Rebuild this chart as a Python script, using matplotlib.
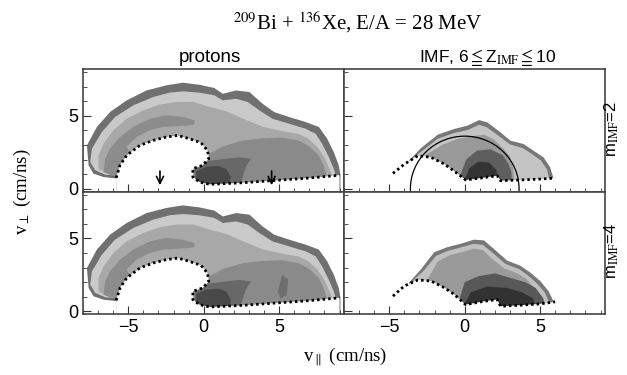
import matplotlib.pyplot as plt
from matplotlib.patches import Circle
from matplotlib.ticker import MultipleLocator

plt.rcParams['mathtext.fontset'] = 'stix'
plt.rcParams['font.family'] = ['Liberation Sans', 'DejaVu Sans']

# ---- protons: contour levels (outer edge first) and the dotted acceptance line
p_outer_x = [-5.8, -6.64, -7.3, -7.63, -7.74, -7.08, -6.21, -5.11, -3.79, -2.48, -1.38, -0.29, 0.7,
             1.27, 2.15, 3.03, 3.9, 4.67, 5.66, 6.75, 7.63, 8.18, 8.62, 8.95, 9.06]
p_outer_y = [0.7, 0.8, 1.03, 1.6, 2.97, 4.23, 5.25, 6.05, 6.73, 7.08, 7.26, 7.12, 6.9,
             6.5, 6.73, 6.62, 5.82, 5.25, 4.91, 4.57, 4.23, 3.43, 2.51, 1.6, 0.96]
p_light_x = [-5.75, -6.53, -7.19, -7.52, -7.41, -6.75, -5.88, -4.67, -3.35, -2.26, -1.38, -0.29, 0.7,
             1.27, 2.15, 2.92, 3.68, 4.56, 5.66, 6.75, 7.41, 7.85, 8.29, 8.62, 8.73]
p_light_y = [0.9, 0.96, 1.26, 1.83, 2.74, 3.88, 4.91, 5.71, 6.28, 6.58, 6.67, 6.58, 6.4,
             6.05, 6.16, 5.94, 5.37, 4.79, 4.45, 4.11, 3.77, 3.08, 2.17, 1.37, 0.96]
p_mid_x = [-5.75, -6.5, -6.97, -6.97, -6.64, -5.99, -5.11, -4.01, -2.92, -1.82, -0.72, 0.39,
           1.5, 2.6, 3.9, 5.2, 6.3, 6.9, 7.55, 8.05, 8.4, 8.5]
p_mid_y = [1.0, 1.1, 1.37, 2.28, 3.08, 3.99, 4.79, 5.37, 5.76, 5.94, 5.95, 5.6,
           5.3, 4.8, 4.25, 3.95, 3.75, 3.45, 2.85, 2.05, 1.2, 0.95]
p_tongue_x = [-5.75, -6.2, -6.64, -6.53, -6.21, -5.55, -4.67, -3.57, -2.48, -1.38, -0.61, -0.61,
              -1.6, -2.7, -3.57, -4.45, -5.11, -4.6, -5.5]
p_tongue_y = [0.9, 0.95, 1.14, 2.05, 2.74, 3.54, 4.23, 4.79, 5.03, 4.91, 4.68, 4.38,
              4.29, 4.23, 4.0, 3.54, 2.86, 2.0, 0.3]
p_lobe_x = [-0.6, -0.6, 0.3, 0.39, 1.27, 2.6, 3.9, 5.2, 6.3, 7.0, 7.6, 7.95, 8.15]
p_lobe_y = [0.8, 1.35, 2.1, 2.4, 2.9, 3.3, 3.45, 3.5, 3.3, 2.9, 2.3, 1.6, 0.9]
p_dark_x = [-0.6, 0.3, 1.49, 2.37, 3.14, 2.81, 2.6, 2.4]
p_dark_y = [1.3, 1.9, 2.05, 2.15, 2.05, 1.55, 0.87, 0.3]
p_core_x = [-0.5, 0.2, 1.0, 1.5, 1.8, 1.7]
p_core_y = [1.2, 1.5, 1.55, 1.35, 0.8, 0.3]
p_spot_x = [4.9, 5.2, 5.6, 5.5, 5.1]
p_spot_y = [1.3, 2.5, 2.2, 1.1, 0.9]
p_cut_x = [-5.8, -5.55, -5.11, -4.23, -3.35, -2.48, -1.71, -0.94, -0.18, 0.26, 0.33, -0.07, -0.72,
           -0.72, -0.29, 0.39, 2.6, 4.78, 6.97, 8.84, 9.0]
p_cut_y = [0.75, 1.6, 2.28, 2.97, 3.31, 3.54, 3.65, 3.42, 3.15, 2.6, 2.05, 1.6, 1.37,
           0.8, 0.46, 0.3, 0.41, 0.57, 0.73, 0.91, 0.95]
arrow_x = [-2.9, 4.5]

# ---- IMF, m_IMF = 2
m2_outer_x = [-3.8, -2.89, -1.79, -0.7, 0.18, 0.95, 1.5, 2.37, 3.03, 3.9, 4.56, 5.22, 5.66, 5.88]
m2_outer_y = [1.8, 2.79, 3.7, 4.09, 4.32, 4.7, 4.54, 3.86, 3.29, 3.06, 2.6, 2.15, 1.46, 0.73]
m2_light_x = [-3.5, -2.8, -1.8, -0.7, 0.2, 0.95, 1.45, 2.3, 3.0, 3.85, 4.45, 5.05, 5.45, 5.6]
m2_light_y = [2.05, 2.6, 3.42, 3.82, 4.02, 4.38, 4.22, 3.58, 3.03, 2.78, 2.38, 1.93, 1.33, 0.7]
m2_mid_x = [-2.6, -1.5, -0.5, 0.5, 1.3, 1.9, 2.6, 3.0, 3.2, 3.3]
m2_mid_y = [2.3, 3.0, 3.4, 3.6, 3.7, 3.4, 2.7, 2.2, 1.4, 0.6]
m2_dark_x = [-0.3, 0.1, 0.8, 1.7, 2.5, 2.9, 3.1, 3.1]
m2_dark_y = [0.9, 2.0, 2.6, 2.7, 2.3, 1.7, 1.1, 0.6]
m2_core_x = [0.0, 0.3, 0.9, 1.6, 2.1, 2.2]
m2_core_y = [0.6, 1.4, 1.85, 1.8, 1.3, 0.6]
m2_cut_x = [-4.76, -4.0, -3.11, -2.24, -1.36, -0.59, 0.06, 1.05, 2.15, 2.37, 3.68, 4.99, 5.99]
m2_cut_y = [1.05, 1.68, 2.26, 2.15, 1.69, 1.12, 0.6, 0.73, 0.89, 0.55, 0.6, 0.66, 0.73]
circle_r = 3.6

# ---- IMF, m_IMF = 4
m4_outer_x = [-3.7, -2.89, -2.02, -1.14, -0.26, 0.61, 1.27, 1.93, 2.81, 3.68, 4.34, 5.0, 5.55, 5.88]
m4_outer_y = [1.95, 2.89, 4.05, 4.4, 4.63, 4.91, 4.86, 4.28, 3.47, 3.13, 2.66, 2.08, 1.39, 0.69]
m4_light_x = [-3.4, -2.75, -1.9, -1.1, -0.25, 0.6, 1.2, 1.8, 2.7, 3.6, 4.2, 4.75, 5.3, 5.6]
m4_light_y = [2.15, 2.75, 3.8, 4.15, 4.38, 4.62, 4.55, 4.05, 3.25, 2.9, 2.45, 1.95, 1.3, 0.6]
m4_mid_x = [-2.4, -1.8, -1.0, -0.2, 0.6, 1.2, 1.7, 2.6, 3.5, 4.1, 4.6, 5.0]
m4_mid_y = [2.3, 3.4, 3.85, 4.05, 4.3, 4.2, 3.7, 2.95, 2.6, 2.2, 1.6, 0.6]
m4_dark_x = [-0.3, 0.0, 0.9, 2.0, 3.0, 4.0, 4.7, 5.2, 5.3]
m4_dark_y = [1.0, 2.0, 2.4, 2.6, 2.3, 2.0, 1.6, 0.9, 0.5]
m4_core_x = [0.0, 0.4, 1.5, 2.8, 3.8, 4.5, 4.7]
m4_core_y = [0.5, 1.3, 1.7, 1.6, 1.3, 0.9, 0.4]
m4_cut_x = [-4.76, -4.0, -3.11, -2.24, -1.36, -0.7, 0.06, 1.27, 2.15, 2.37, 3.68, 4.99, 5.99]
m4_cut_y = [1.04, 1.74, 2.15, 2.08, 1.62, 1.16, 0.46, 0.69, 0.81, 0.35, 0.42, 0.51, 0.65]

base = -0.5


def drop(x, y):
    # close an open contour through the masked area below the cut line
    return list(x) + [x[-1], x[0]], list(y) + [base, base]


def panel(ax, layers, cut_x, cut_y):
    for x, y, c, is_open in layers:
        if is_open:
            x, y = drop(x, y)
        ax.fill(x, y, color=c, lw=0, zorder=1)
    mx, my = drop(cut_x, cut_y)
    ax.fill(mx, my, color='white', lw=0, zorder=1.5)
    ax.plot(cut_x, cut_y, color='black', lw=2.0, ls=(0, (0.9, 1.1)), zorder=3)


fig = plt.figure(figsize=(6.27, 3.75), dpi=100)
gs = fig.add_gridspec(2, 2, left=0.1324, right=0.965, top=0.816, bottom=0.162,
                      hspace=0, wspace=0)
axes = [[fig.add_subplot(gs[r, c]) for c in range(2)] for r in range(2)]

proton_layers = [
    (p_outer_x, p_outer_y, '#707070', True),
    (p_light_x, p_light_y, '#c9c9c9', True),
    (p_mid_x, p_mid_y, '#a8a8a8', True),
    (p_tongue_x, p_tongue_y, '#8c8c8c', False),
    (p_lobe_x, p_lobe_y, '#8a8a8a', True),
    (p_dark_x, p_dark_y, '#686868', True),
    (p_core_x, p_core_y, '#484848', True),
]
panel(axes[0][0], proton_layers, p_cut_x, p_cut_y)
panel(axes[1][0], proton_layers + [(p_spot_x, p_spot_y, '#6e6e6e', False)], p_cut_x, p_cut_y)

panel(axes[0][1], [
    (m2_outer_x, m2_outer_y, '#777777', True),
    (m2_light_x, m2_light_y, '#c4c4c4', True),
    (m2_mid_x, m2_mid_y, '#999999', True),
    (m2_dark_x, m2_dark_y, '#5e5e5e', True),
    (m2_core_x, m2_core_y, '#343434', True),
], m2_cut_x, m2_cut_y)

panel(axes[1][1], [
    (m4_outer_x, m4_outer_y, '#787878', True),
    (m4_light_x, m4_light_y, '#c0c0c0', True),
    (m4_mid_x, m4_mid_y, '#9a9a9a', True),
    (m4_dark_x, m4_dark_y, '#585858', True),
    (m4_core_x, m4_core_y, '#323232', True),
], m4_cut_x, m4_cut_y)

axes[0][1].add_patch(Circle((0, 0), circle_r, fill=False, color='black', lw=0.9, zorder=4))

for xa in arrow_x:
    axes[0][0].annotate('', xy=(xa, 0.05), xytext=(xa, 1.4),
                        arrowprops=dict(arrowstyle='->,head_length=0.5,head_width=0.25',
                                        color='black', lw=1.2), zorder=5)

for r in range(2):
    for c in range(2):
        ax = axes[r][c]
        ax.set_xlim(-8, 9.3)
        ax.set_ylim(-0.2, 8.2)
        ax.set_xticks([-5, 0, 5])
        ax.set_yticks([0, 5])
        ax.xaxis.set_minor_locator(MultipleLocator(1))
        ax.yaxis.set_minor_locator(MultipleLocator(1))
        ax.tick_params(which='both', direction='in', labelsize=13, color='#333333')
        ax.tick_params(which='major', length=6)
        ax.tick_params(which='minor', length=3)
        for s in ax.spines.values():
            s.set_linewidth(1.2)
            s.set_color('#444444')
        if r == 0:
            ax.tick_params(labelbottom=False)
        if c == 1:
            ax.tick_params(labelleft=False)

fig.text(0.57, 0.94, r'$^{209}$Bi + $^{136}$Xe, E/A = 28 MeV', family='Liberation Serif',
         fontsize=15, ha='center', va='center')
fig.text(0.335, 0.848, 'protons', fontsize=13.5, ha='center', va='center')
fig.text(0.777, 0.848, r'IMF, 6$\leqq$Z$_{\rm IMF}$$\leqq$10', fontsize=12.5,
         ha='center', va='center')
fig.text(0.976, 0.655, r'm$_{\rm IMF}$=2', fontsize=12, rotation=90, ha='center', va='center')
fig.text(0.976, 0.33, r'm$_{\rm IMF}$=4', fontsize=12, rotation=90, ha='center', va='center')
fig.text(0.035, 0.49, r'v$_{\perp}$ (cm/ns)', family='Liberation Serif', fontsize=13.5,
         rotation=90, ha='center', va='center')
fig.text(0.55, 0.048, r'v$_{\parallel}$ (cm/ns)', family='Liberation Serif', fontsize=13.5,
         ha='center', va='center')

fig.savefig('out.png', dpi=100)
